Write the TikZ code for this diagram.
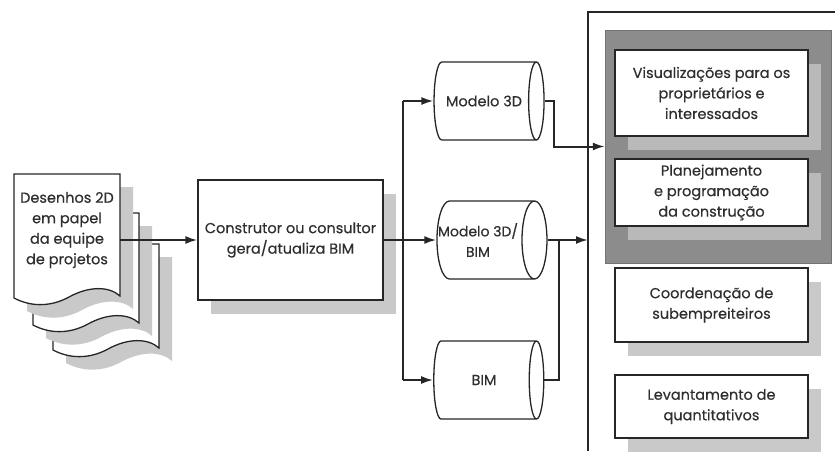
\documentclass[tikz,border=0pt]{standalone}
\usepackage{fontspec}
\setmainfont{Poppins}[FakeBold=0.4]
\usetikzlibrary{arrows.meta,shapes.geometric,shadows}

\definecolor{tinta}{HTML}{2E2E2E}
\definecolor{sombra}{HTML}{C9C9C9}
\definecolor{sombraclara}{HTML}{B9B9B9}
\definecolor{painelcinza}{HTML}{8C8C8C}

\tikzset{
  caixa/.style={draw=black!85, line width=1.3pt, fill=white, text=tinta, align=center,
    font=\fontsize{14.5}{20.5}\selectfont, inner sep=0pt},
  comsombra/.style={drop shadow={shadow xshift=13pt, shadow yshift=-14pt, fill=#1, opacity=1}},
  cilindro/.style={cylinder, draw=black!85, line width=1.3pt, fill=white, text=tinta, align=center,
    font=\fontsize{14.5}{20.5}\selectfont, minimum height=110pt, minimum width=78pt, aspect=1.2,
    inner xsep=-16pt, inner ysep=1pt},
  seta/.style={-{Latex[length=12pt,width=8pt]}, line width=2pt, draw=black!85},
  linha/.style={line width=2pt, draw=black!85},
  texto/.style={text=tinta, align=center, font=\fontsize{14.5}{20.5}\selectfont}
}

% folha de papel com fundo ondulado, (0,0) = canto inferior esquerdo
\newcommand\pagina[1]{(0,-#1) -- (106,-#1) -- (106,-2) .. controls (95,-12) and (75,-12) .. (55,-1) .. controls (35,10) and (15,8) .. (0,0) -- cycle}
\def\folha(#1,#2,#3){%
  \fill[sombra, shift={(#1+13,#2+13)}] \pagina{#3};
  \draw[fill=white, draw=black!85, line width=1.3pt, shift={(#1,#2)}] \pagina{#3};
}

\begin{document}
\begin{tikzpicture}[x=1pt, y=-1pt]
  \useasboundingbox (0,0) rectangle (835,461);

  %%%%% desenhos 2D %%%%%
  \folha(53,350,106)
  \folha(33,325,112)
  \folha(14,298,124)
  \node[texto] (desenhos) at (67,230) {Desenhos 2D\\em papel\\da equipe\\de projetos};
  \coordinate (folhafrente) at (120,240);

  \node[caixa, comsombra=sombra, minimum width=185pt, minimum height=120pt] (construtor) at (290.5,240)
    {Construtor ou consultor\\gera/atualiza BIM};

  %%%%% modelos %%%%%
  \node[cilindro] (m3d) at (484,101) {Modelo 3D};
  \node[cilindro, aspect=0.7, font=\fontsize{14}{20.5}\selectfont] (m3dbim) at (484,240)
    {Modelo 3D/\hspace*{12pt}\\BIM\hspace*{12pt}};
  \node[cilindro] (bim) at (484,380) {BIM};

  %%%%% usos %%%%%
  \draw[line width=1.3pt, black!85] (835,12) -| (588,451);
  \coordinate (quadro) at (588,12);
  \node[draw=black!55, fill=painelcinza, minimum width=226pt, minimum height=233pt] (painel) at (718,146.5) {};
  \node[caixa, comsombra=sombraclara, minimum width=193pt, minimum height=86pt] (visual) at (711.5,93)
    {Visualizações para os\\proprietários e\\interessados};
  \node[caixa, comsombra=sombraclara, minimum width=193pt, minimum height=67pt] (planej) at (711.5,192.5)
    {Planejamento\\e programação\\da construção};
  \node[caixa, comsombra=sombra, minimum width=193pt, minimum height=74pt] (coord) at (711.5,305)
    {Coordenação de\\subempreiteiros};
  \node[caixa, comsombra=sombra, minimum width=193pt, minimum height=63pt] (levant) at (711.5,406.5)
    {Levantamento de\\quantitativos};

  %%%%% ligacoes %%%%%
  \draw[seta] (folhafrente) -- (construtor.west);
  \coordinate (barra) at (403,240);
  \draw[linha] (construtor.east) -- (barra);
  \draw[linha] (barra |- m3d.west) -- (barra |- bim.west);
  \draw[seta] (barra |- m3d.west) -- (m3d.west);
  \draw[seta] (barra) -- (m3dbim.west);
  \draw[seta] (barra |- bim.west) -- (bim.west);

  \draw[seta] (m3d.east) -- ++(9,0) |- (painel.west);
  \draw[seta] (m3dbim.east) -- (m3dbim.east -| quadro);
  \draw[linha] (bim.east) -- ++(15,0) |- (m3dbim.east);
\end{tikzpicture}
\end{document}
